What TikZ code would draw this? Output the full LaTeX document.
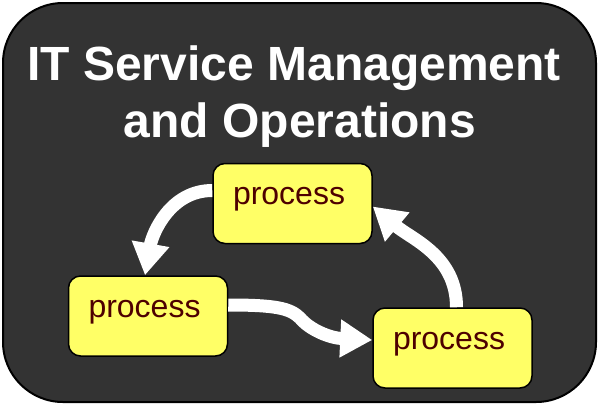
\documentclass[tikz,border=0pt]{standalone}
\usepackage{fontspec}
\setmainfont{Liberation Sans}
\usetikzlibrary{arrows.meta}
\definecolor{panel}{HTML}{333333}
\definecolor{boxfill}{HTML}{FFFF66}
\definecolor{boxtext}{HTML}{4D0000}

\begin{document}
\begin{tikzpicture}[x=1pt,y=-1pt]
\tikzstyle{proc}=[draw=black,line width=1.5pt,fill=boxfill,rounded corners=12pt,
  text=boxtext,font=\fontsize{32}{38}\selectfont,align=left,text width=119pt,
  inner xsep=20pt,inner ysep=8pt,text height=33pt,text depth=31pt];
\tikzstyle{flow}=[draw=white,line width=13pt,-{Triangle[width=36pt,length=32pt]}];
\tikzstyle{heading}=[text=white,font=\fontsize{48}{57}\bfseries\selectfont,anchor=base];
\useasboundingbox (0,0) rectangle (599,405);
\draw[fill=panel,line width=2pt,rounded corners=60pt] (3,3) rectangle (596,402);
\node[heading] (title1) at (294,80) {IT Service Management};
\node[heading] (title2) at (300,137) {and Operations};
\node[proc] (p1) at (292.5,203.5) {process};
\node[proc] (p2) at (148,316) {process};
\node[proc] (p3) at (452.5,348) {process};
% cycle of arrows
\draw[flow] ([yshift=13pt]p1.west) to[out=180,in=80] ([xshift=-3pt]p2.north);
\draw[flow] ([yshift=11pt]p2.east) .. controls (275,305) and (290,308) .. (300,318)
  .. controls (310,330) and (330,338) .. ([yshift=8pt]p3.west);
\draw[flow] ([xshift=4pt]p3.north) to[out=90,in=-40] ([yshift=-3pt]p1.east);
\end{tikzpicture}
\end{document}
